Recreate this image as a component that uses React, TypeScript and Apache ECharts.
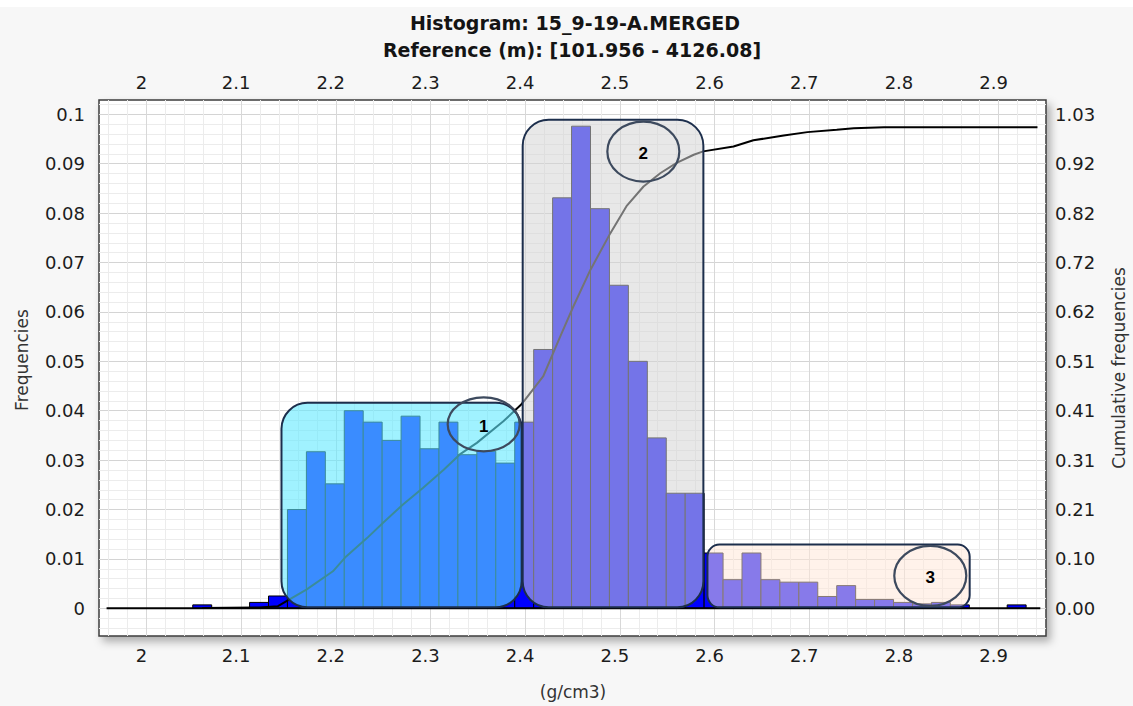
import React, { useEffect, useRef } from "react";
import * as echarts from "echarts";

// ---------- texts ----------
const titleLines = ["Histogram: 15_9-19-A.MERGED", "Reference (m): [101.956 - 4126.08]"];
const xAxisName = "(g/cm3)";
const leftAxisName = "Frequencies";
const rightAxisName = "Cumulative frequencies";

// ---------- axes ----------
const X_MIN = 1.95;
const X_MAX = 2.95;
const Y_MIN = -0.0056;
const Y_MAX = 0.1029;
const xTickValues = [2.0, 2.1, 2.2, 2.3, 2.4, 2.5, 2.6, 2.7, 2.8, 2.9];
const leftTickValues = [0, 0.01, 0.02, 0.03, 0.04, 0.05, 0.06, 0.07, 0.08, 0.09, 0.1];
// right axis (cumulative) is the left axis times this factor
const rightScale = 10.27;

// ---------- histogram (all samples) ----------
const binWidth = 0.02;
const binLeft = [
  2.049, 2.109, 2.129,
  2.149, 2.169, 2.189, 2.209, 2.229, 2.249, 2.269, 2.289, 2.309, 2.329, 2.349, 2.369,
  2.389,
  2.409, 2.429, 2.449, 2.469, 2.489, 2.509, 2.529, 2.549, 2.569,
  2.589, 2.609, 2.629, 2.649, 2.669, 2.689, 2.709, 2.729, 2.749, 2.769, 2.789, 2.809, 2.829, 2.849,
  2.909,
];
const binFreq = [
  0.0007, 0.0012, 0.0025,
  0.02, 0.0317, 0.0252, 0.04, 0.0377, 0.034, 0.0389, 0.0323, 0.0377, 0.0311, 0.0318, 0.0294,
  0.0377,
  0.0524, 0.0831, 0.0976, 0.0809, 0.0654, 0.05, 0.0345, 0.0233, 0.0233,
  0.0112, 0.0058, 0.0112, 0.0058, 0.0053, 0.0053, 0.0024, 0.0046, 0.0018, 0.0018, 0.0012, 0.0009, 0.0012, 0.0007,
  0.0007,
];
const zeroLineX = [1.958, 2.944];

// ---------- cumulative frequencies ----------
const cumX = [
  2.059, 2.119, 2.139, 2.148, 2.169, 2.197, 2.211, 2.233, 2.25, 2.271, 2.292, 2.314, 2.331, 2.349,
  2.377, 2.395, 2.4, 2.419, 2.437, 2.451, 2.469, 2.49, 2.507, 2.525, 2.543, 2.56, 2.578, 2.588,
  2.62, 2.641, 2.673, 2.698, 2.729, 2.747, 2.779, 2.838, 2.941,
];
const cumY = [
  0.0007, 0.0019, 0.0044, 0.015, 0.039, 0.077, 0.108, 0.146, 0.178, 0.216, 0.25, 0.288, 0.32, 0.344,
  0.389, 0.422, 0.434, 0.482, 0.565, 0.628, 0.704, 0.78, 0.836, 0.877, 0.905, 0.926, 0.943, 0.95,
  0.96, 0.973, 0.983, 0.99, 0.995, 0.998, 1.0, 1.0, 1.0,
];

// ---------- facies groups (annotation boxes) ----------
const groupLabels = ["1", "2", "3"];
const groupX0 = [2.1427, 2.3974, 2.5925];
const groupX1 = [2.3963, 2.5882, 2.8694];
const groupTop = [0.0416, 0.0989, 0.0129];
const groupBottom = [0.0002, 0.0002, 0.0002];
const markerX = [2.3562, 2.5248, 2.8278];
const markerY = [0.03725, 0.09247, 0.00658];

// ---------- styles ----------
const FONT = "DejaVu Sans";
const LABEL_COLOR = "#1c1c1c";
const groupFill = ["rgba(97,233,255,0.6)", "rgba(213,213,213,0.545)", "rgba(255,230,215,0.53)"];
const groupRadius = [26, 26, 12];
const markerRx = [36, 36, 36];
const markerRy = [27, 30, 30];

function buildMinor(start: number, step: number, count: number, major: number) {
  const out: number[] = [];
  for (let i = 0; i < count; i++) {
    const v = Number((start + step * i).toFixed(4));
    const r = v / major;
    if (Math.abs(r - Math.round(r)) > 1e-6) out.push(v);
  }
  return out;
}
const xMinor = buildMinor(1.96, 0.02, 50, 0.1);
const yMinor = buildMinor(-0.004, 0.002, 54, 0.01);

export default function App() {
  const ref = useRef<HTMLDivElement>(null);

  useEffect(() => {
    if (!ref.current) return;
    const chart = echarts.init(ref.current, undefined, { renderer: "svg" });

    const tickLabel = {
      fontFamily: FONT,
      fontSize: 18,
      color: LABEL_COLOR,
    };

    const option: any = {
      animation: false,
      backgroundColor: "#f7f7f7",
      grid: {
        left: 99,
        right: 87,
        top: 100,
        bottom: 70,
        show: true,
        backgroundColor: "#ffffff",
        borderColor: "#3c3c3c",
        borderWidth: 1.5,
        shadowColor: "rgba(0,0,0,0.3)",
        shadowBlur: 8,
        shadowOffsetX: 4,
        shadowOffsetY: 5,
      },
      xAxis: [
        {
          type: "value",
          min: X_MIN,
          max: X_MAX,
          position: "bottom",
          axisLine: { show: false },
          axisTick: { show: false, customValues: xTickValues },
          axisLabel: {
            ...tickLabel,
            customValues: xTickValues,
            margin: 10,
            padding: [0, 10, 0, 0],
            formatter: (v: number) => String(Number(v.toFixed(2))),
          },
          splitLine: { show: true, lineStyle: { color: "#d8d8d8", width: 1 } },
        },
        {
          type: "value",
          min: X_MIN,
          max: X_MAX,
          position: "top",
          axisLine: { show: false },
          axisTick: { show: false, customValues: xTickValues },
          axisLabel: {
            ...tickLabel,
            customValues: xTickValues,
            margin: 9,
            padding: [0, 10, 0, 0],
            formatter: (v: number) => String(Number(v.toFixed(2))),
          },
          splitLine: { show: false },
        },
        {
          type: "value",
          min: X_MIN,
          max: X_MAX,
          position: "bottom",
          axisLine: { show: false },
          axisTick: { show: false, customValues: xMinor },
          axisLabel: { show: false },
          splitLine: { show: true, lineStyle: { color: "#ececec", width: 1 } },
        },
      ],
      yAxis: [
        {
          type: "value",
          min: Y_MIN,
          max: Y_MAX,
          position: "left",
          axisLine: { show: false },
          axisTick: { show: false, customValues: leftTickValues },
          axisLabel: {
            ...tickLabel,
            customValues: leftTickValues,
            margin: 14,
            formatter: (v: number) => String(Number(v.toFixed(3))),
          },
          splitLine: { show: true, lineStyle: { color: "#d4d4d4", width: 1 } },
        },
        {
          type: "value",
          min: Y_MIN * rightScale,
          max: Y_MAX * rightScale,
          position: "right",
          axisLine: { show: false },
          axisTick: { show: false, customValues: leftTickValues.map((v) => v * rightScale) },
          axisLabel: {
            ...tickLabel,
            customValues: leftTickValues.map((v) => v * rightScale),
            margin: 9,
            formatter: (v: number) => v.toFixed(2),
          },
          splitLine: { show: false },
        },
        {
          type: "value",
          min: Y_MIN,
          max: Y_MAX,
          position: "left",
          axisLine: { show: false },
          axisTick: { show: false, customValues: yMinor },
          axisLabel: { show: false },
          splitLine: { show: true, lineStyle: { color: "#ececec", width: 1 } },
        },
      ],
      graphic: [
        { type: "rect", shape: { x: 0, y: 0, width: 1133, height: 7 }, style: { fill: "#ffffff" }, z: -10 },
        {
          type: "text",
          x: 575,
          y: 23,
          style: {
            text: titleLines[0],
            fill: "#141414",
            fontFamily: FONT,
            fontWeight: "bold",
            fontSize: 19,
            textAlign: "center",
            textVerticalAlign: "middle",
          },
        },
        {
          type: "text",
          x: 572,
          y: 50,
          style: {
            text: titleLines[1],
            fill: "#141414",
            fontFamily: FONT,
            fontWeight: "bold",
            fontSize: 19,
            textAlign: "center",
            textVerticalAlign: "middle",
          },
        },
        {
          type: "text",
          x: 22,
          y: 360,
          rotation: Math.PI / 2,
          style: {
            text: leftAxisName,
            fill: "#333",
            fontFamily: FONT,
            fontSize: 17,
            textAlign: "center",
            textVerticalAlign: "middle",
          },
        },
        {
          type: "text",
          x: 1119,
          y: 368,
          rotation: Math.PI / 2,
          style: {
            text: rightAxisName,
            fill: "#333",
            fontFamily: FONT,
            fontSize: 17,
            textAlign: "center",
            textVerticalAlign: "middle",
          },
        },
        {
          type: "text",
          x: 573,
          y: 692,
          style: {
            text: xAxisName,
            fill: "#333",
            fontFamily: FONT,
            fontSize: 17,
            textAlign: "center",
            textVerticalAlign: "middle",
          },
        },
      ],
      series: [
        {
          name: "histogram",
          type: "custom",
          xAxisIndex: 0,
          yAxisIndex: 0,
          z: 2,
          encode: { x: 0, y: 1 },
          data: binLeft.map((l, i) => [l, binFreq[i]]),
          renderItem: (params: any, api: any) => {
            const left = api.value(0);
            const p0 = api.coord([left, api.value(1)]);
            const p1 = api.coord([left + binWidth, 0]);
            return {
              type: "rect",
              shape: { x: p0[0], y: p0[1], width: p1[0] - p0[0], height: p1[1] - p0[1] },
              style: { fill: "#0000ff", stroke: "#000000", lineWidth: 1 },
            };
          },
        },
        {
          name: "zero",
          type: "line",
          xAxisIndex: 0,
          yAxisIndex: 0,
          z: 3,
          showSymbol: false,
          data: zeroLineX.map((x) => [x, 0]),
          lineStyle: { color: "#000", width: 2 },
        },
        {
          name: "cumulative",
          type: "line",
          xAxisIndex: 0,
          yAxisIndex: 1,
          z: 3,
          showSymbol: false,
          data: cumX.map((x, i) => [x, cumY[i]]),
          lineStyle: { color: "#000", width: 2 },
        },
        {
          name: "groups",
          type: "custom",
          xAxisIndex: 0,
          yAxisIndex: 0,
          z: 5,
          encode: { x: [0, 1], y: [2, 3] },
          data: groupX0.map((x0, i) => [x0, groupX1[i], groupTop[i], groupBottom[i]]),
          renderItem: (params: any, api: any) => {
            const i = params.dataIndex;
            const p0 = api.coord([api.value(0), api.value(2)]);
            const p1 = api.coord([api.value(1), api.value(3)]);
            return {
              type: "rect",
              shape: {
                x: p0[0],
                y: p0[1],
                width: p1[0] - p0[0],
                height: p1[1] - p0[1],
                r: groupRadius[i],
              },
              style: { fill: groupFill[i], stroke: "#1c2e4c", lineWidth: 2 },
            };
          },
        },
        {
          name: "markers",
          type: "custom",
          xAxisIndex: 0,
          yAxisIndex: 0,
          z: 6,
          encode: { x: 0, y: 1 },
          data: markerX.map((x, i) => [x, markerY[i]]),
          renderItem: (params: any, api: any) => {
            const i = params.dataIndex;
            const c = api.coord([api.value(0), api.value(1)]);
            return {
              type: "group",
              children: [
                {
                  type: "ellipse",
                  shape: { cx: c[0], cy: c[1], rx: markerRx[i], ry: markerRy[i] },
                  style: { fill: "none", stroke: "#3d4a5e", lineWidth: 2.2 },
                },
                {
                  type: "text",
                  x: c[0],
                  y: c[1] + 2,
                  style: {
                    text: groupLabels[i],
                    fill: "#000",
                    fontFamily: "Liberation Sans",
                    fontWeight: "bold",
                    fontSize: 17,
                    align: "center",
                    verticalAlign: "middle",
                  },
                },
              ],
            };
          },
        },
      ],
    };

    chart.setOption(option);
    return () => chart.dispose();
  }, []);

  return (
    <div
      ref={ref}
      style={{ position: "fixed", left: 0, top: 0, width: 1133, height: 706 }}
    />
  );
}
